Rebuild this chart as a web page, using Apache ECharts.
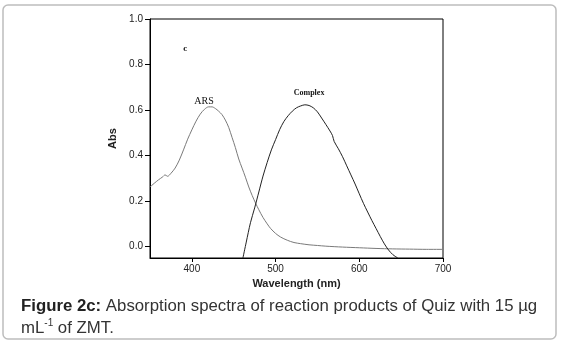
<!DOCTYPE html>
<html>
<head>
<meta charset="utf-8">
<script src="https://cdn.jsdelivr.net/npm/echarts@6/dist/echarts.min.js"></script>
<style>
  html, body { margin: 0; padding: 0; background: #fff; }
  #chart { width: 563px; height: 343px; }
</style>
</head>
<body>
<div id="chart"></div>
<script>
// ARS spectrum (dotted grey curve)
const arsWavelength = [350, 355, 360, 365, 368, 371, 375, 380, 385, 390, 395, 400, 405, 410, 415, 420, 424, 428, 432, 436, 440, 444, 448, 452, 456, 460, 464, 468, 472, 476, 480, 485, 490, 494, 500, 506, 514, 522, 530, 540, 550, 560, 580, 600, 620, 640, 660, 680, 700];
const arsAbs = [0.262, 0.278, 0.293, 0.306, 0.315, 0.309, 0.322, 0.345, 0.38, 0.425, 0.472, 0.513, 0.551, 0.582, 0.603, 0.614, 0.614, 0.607, 0.595, 0.58, 0.556, 0.524, 0.48, 0.435, 0.385, 0.345, 0.305, 0.262, 0.225, 0.192, 0.162, 0.128, 0.1, 0.08, 0.058, 0.042, 0.028, 0.018, 0.013, 0.008, 0.005, 0.002, -0.002, -0.005, -0.008, -0.01, -0.011, -0.012, -0.012];

// complex spectrum (solid curve)
const complexWavelength = [461, 465, 470, 475, 480, 485, 490, 495, 500, 505, 510, 515, 520, 525, 530, 535, 540, 545, 550, 555, 560, 565, 568, 570, 575, 580, 585, 590, 595, 600, 605, 610, 615, 620, 625, 630, 635, 640, 646];
const complexAbs = [-0.05, 0.02, 0.105, 0.17, 0.24, 0.31, 0.37, 0.425, 0.47, 0.515, 0.55, 0.575, 0.595, 0.61, 0.618, 0.623, 0.62, 0.61, 0.592, 0.565, 0.537, 0.508, 0.488, 0.462, 0.43, 0.395, 0.355, 0.315, 0.275, 0.232, 0.19, 0.152, 0.115, 0.08, 0.045, 0.012, -0.015, -0.035, -0.05];

const xTicks = [400, 500, 600, 700];
const yTicks = [0, 0.2, 0.4, 0.6, 0.8, 1.0];

const toPairs = (xs, ys) => xs.map((x, i) => [x, ys[i]]);

const sans = '"Liberation Sans", Arial, sans-serif';
const serif = '"Liberation Serif", "Times New Roman", serif';

const chart = echarts.init(document.getElementById('chart'));

const option = {
  animation: false,
  backgroundColor: '#fff',
  grid: {
    left: 150,
    right: 120,
    top: 19,
    bottom: 85,
    show: true,
    borderColor: '#000',
    borderWidth: 1,
    backgroundColor: 'transparent',
  },
  xAxis: {
    type: 'value',
    min: 350,
    max: 700,
    name: 'Wavelength (nm)',
    nameLocation: 'middle',
    nameGap: 16,
    nameTextStyle: { fontFamily: sans, fontSize: 11, fontWeight: 'bold', color: '#222' },
    axisLine: { show: true, onZero: false, lineStyle: { color: '#000', width: 1 } },
    axisTick: { show: true, length: 4, customValues: xTicks, lineStyle: { color: '#000' } },
    axisLabel: { customValues: xTicks, margin: 6, fontFamily: sans, fontSize: 10, color: '#222' },
    splitLine: { show: false },
  },
  yAxis: {
    type: 'value',
    min: -0.05,
    max: 1.0,
    name: 'Abs',
    nameLocation: 'middle',
    nameGap: 30,
    nameTextStyle: { fontFamily: sans, fontSize: 11, fontWeight: 'bold', color: '#222' },
    axisLine: { show: true, onZero: false, lineStyle: { color: '#000', width: 1 } },
    axisTick: { show: true, length: 5, customValues: yTicks, lineStyle: { color: '#000' } },
    axisLabel: {
      customValues: yTicks,
      margin: 7,
      fontFamily: sans,
      fontSize: 10,
      color: '#222',
      formatter: (v) => v.toFixed(1),
    },
    splitLine: { show: false },
  },
  series: [
    {
      name: 'ARS',
      type: 'line',
      data: toPairs(arsWavelength, arsAbs),
      showSymbol: false,
      smooth: 0.3,
      lineStyle: { color: '#7a7a7a', width: 1 },
      markPoint: {
        symbol: 'circle',
        symbolSize: 0,
        label: { show: true, position: 'inside', color: '#111' },
        data: [
          { coord: [414.5, 0.638], label: { formatter: 'ARS', fontFamily: serif, fontSize: 10 } },
          { coord: [392, 0.87], label: { formatter: 'c', fontFamily: serif, fontSize: 9, fontWeight: 'bold' } },
        ],
      },
    },
    {
      name: 'Complex',
      type: 'line',
      data: toPairs(complexWavelength, complexAbs),
      showSymbol: false,
      smooth: 0.3,
      lineStyle: { color: '#222', width: 1 },
      markPoint: {
        symbol: 'circle',
        symbolSize: 0,
        label: { show: true, position: 'inside', color: '#111' },
        data: [
          { coord: [540, 0.673], label: { formatter: 'Complex', fontFamily: serif, fontSize: 8, fontWeight: 'bold' } },
        ],
      },
    },
  ],
  graphic: [
    {
      type: 'rect',
      shape: { x: 3, y: 5, width: 553, height: 334, r: 5 },
      style: { fill: 'none', stroke: '#bdbdbd', lineWidth: 1.5 },
      silent: true,
    },
    {
      type: 'text',
      x: 21,
      y: 297,
      style: {
        text: '{b|Figure 2c:}{n| Absorption spectra of reaction products of Quiz with 15 µg}',
        rich: {
          b: { fontFamily: sans, fontSize: 16.8, fontWeight: 'bold', fill: '#222', lineHeight: 19 },
          n: { fontFamily: sans, fontSize: 16.8, fill: '#333', lineHeight: 19 },
        },
      },
    },
    {
      type: 'text',
      x: 21,
      y: 318,
      style: {
        text: '{n|mL}{s|-1}{n| of ZMT.}',
        rich: {
          n: { fontFamily: sans, fontSize: 16.8, fill: '#333', lineHeight: 19, verticalAlign: 'bottom' },
          s: { fontFamily: sans, fontSize: 10, fill: '#333', lineHeight: 19, verticalAlign: 'top' },
        },
      },
    },
  ],
};

chart.setOption(option);
</script>
</body>
</html>
